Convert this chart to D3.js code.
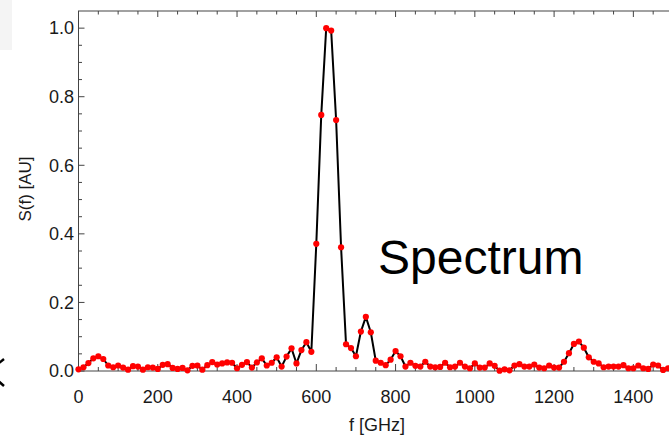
<!DOCTYPE html>
<html>
<head>
<meta charset="utf-8">
<script src="https://cdn.jsdelivr.net/npm/d3@7"></script>
<style>
    html, body { margin: 0; padding: 0; background: #fff; }
    svg { display: block; font-family: "Liberation Sans", Arial, sans-serif; }
</style>
</head>
<body>
<div id="chart"></div>
<script>
// frequency samples [GHz]
var freq = [
    0, 12.5, 25, 37.5, 50, 62.5, 75, 87.5, 100, 112.5,
    125, 137.5, 150, 162.5, 175, 187.5, 200, 212.5, 225, 237.5,
    250, 262.5, 275, 287.5, 300, 312.5, 325, 337.5, 350, 362.5,
    375, 387.5, 400, 412.5, 425, 437.5, 450, 462.5, 475, 487.5,
    500, 512.5, 525, 537.5, 550, 562.5, 575, 587.5, 600, 612.5,
    625, 637.5, 650, 662.5, 675, 687.5, 700, 712.5, 725, 737.5,
    750, 762.5, 775, 787.5, 800, 812.5, 825, 837.5, 850, 862.5,
    875, 887.5, 900, 912.5, 925, 937.5, 950, 962.5, 975, 987.5,
    1000, 1012.5, 1025, 1037.5, 1050, 1062.5, 1075, 1087.5, 1100, 1112.5,
    1125, 1137.5, 1150, 1162.5, 1175, 1187.5, 1200, 1212.5, 1225, 1237.5,
    1250, 1262.5, 1275, 1287.5, 1300, 1312.5, 1325, 1337.5, 1350, 1362.5,
    1375, 1387.5, 1400, 1412.5, 1425, 1437.5, 1450, 1462.5, 1475, 1487.5
];

// S(f)
var signal = [
    0.005, 0.011, 0.023, 0.037, 0.043, 0.035, 0.016, 0.011, 0.016, 0.010,
    0.004, 0.014, 0.013, 0.004, 0.011, 0.010, 0.006, 0.018, 0.020, 0.009,
    0.006, 0.009, 0.002, 0.015, 0.016, 0.004, 0.017, 0.026, 0.019, 0.022,
    0.025, 0.024, 0.008, 0.018, 0.026, 0.010, 0.025, 0.037, 0.016, 0.024,
    0.040, 0.013, 0.042, 0.066, 0.022, 0.061, 0.084, 0.056, 0.371, 0.747,
    1.000, 0.993, 0.732, 0.361, 0.078, 0.067, 0.043, 0.115, 0.158, 0.113,
    0.030, 0.024, 0.017, 0.033, 0.058, 0.043, 0.013, 0.024, 0.015, 0.013,
    0.027, 0.013, 0.011, 0.012, 0.024, 0.011, 0.013, 0.024, 0.013, 0.008,
    0.022, 0.010, 0.010, 0.022, 0.015, 0.001, 0.005, 0.002, 0.016, 0.020,
    0.013, 0.013, 0.019, 0.010, 0.008, 0.016, 0.010, 0.010, 0.027, 0.052,
    0.079, 0.086, 0.068, 0.040, 0.027, 0.022, 0.011, 0.013, 0.013, 0.013,
    0.017, 0.008, 0.008, 0.016, 0.008, 0.006, 0.019, 0.016, 0.003, 0.008
];

var xTicks = [0, 200, 400, 600, 800, 1000, 1200, 1400];
var yTicks = [0.0, 0.2, 0.4, 0.6, 0.8, 1.0];

var width = 669,
    height = 436,
    margin = {top: 11, right: -4, bottom: 65, left: 78.5};

var svg = d3.select("#chart")
    .append("svg")
    .attr("width", width)
    .attr("height", height);

svg.append("rect")
    .attr("width", width)
    .attr("height", height)
    .attr("fill", "#fff");

// leftovers of the slide at the left edge
svg.append("rect")
    .attr("x", 0)
    .attr("y", 0)
    .attr("width", 12)
    .attr("height", 50)
    .attr("fill", "#f4f4f4");
svg.append("path")
    .attr("d", "M4,359L-12,372L4,386")
    .attr("fill", "none")
    .attr("stroke", "#000")
    .attr("stroke-width", 2.5);

var x = d3.scaleLinear()
    .domain([0, 1500])
    .range([margin.left, width - margin.right]);

var y = d3.scaleLinear()
    .domain([0, 1.05])
    .range([height - margin.bottom, margin.top]);

var data = freq.map(function(f, i) { return {f: f, s: signal[i]}; });

var frameColor = "#444";

// frame (right side falls outside the picture)
svg.append("rect")
    .attr("x", x(0))
    .attr("y", y(1.05))
    .attr("width", x(1500) - x(0))
    .attr("height", y(0) - y(1.05))
    .attr("fill", "none")
    .attr("stroke", frameColor)
    .attr("stroke-width", 1);

// minor + major ticks, pointing inward
var xMinor = d3.range(0, 1501, 50);
var yMinor = d3.range(0, 21).map(function(k) { return k * 0.05; });

svg.append("g")
    .selectAll("line")
    .data(xMinor)
    .enter()
    .append("line")
    .attr("x1", function(d) { return x(d); })
    .attr("x2", function(d) { return x(d); })
    .attr("y1", y(0))
    .attr("y2", function(d) { return y(0) - (d % 200 === 0 ? 7 : 4); })
    .attr("stroke", frameColor);

svg.append("g")
    .selectAll("line")
    .data(xMinor)
    .enter()
    .append("line")
    .attr("x1", function(d) { return x(d); })
    .attr("x2", function(d) { return x(d); })
    .attr("y1", y(1.05))
    .attr("y2", function(d) { return y(1.05) + (d % 200 === 0 ? 6 : 3.5); })
    .attr("stroke", frameColor);

svg.append("g")
    .selectAll("line")
    .data(yMinor)
    .enter()
    .append("line")
    .attr("x1", x(0))
    .attr("x2", function(d, i) { return x(0) + (i % 4 === 0 ? 6 : 3.5); })
    .attr("y1", function(d) { return y(d); })
    .attr("y2", function(d) { return y(d); })
    .attr("stroke", frameColor);

// tick labels
svg.append("g")
    .selectAll("text")
    .data(xTicks)
    .enter()
    .append("text")
    .attr("x", function(d) { return x(d); })
    .attr("y", 403)
    .attr("text-anchor", "middle")
    .attr("font-size", 18)
    .attr("fill", "#1a1a1a")
    .text(function(d) { return d; });

svg.append("g")
    .selectAll("text")
    .data(yTicks)
    .enter()
    .append("text")
    .attr("x", 74)
    .attr("y", function(d) { return y(d); })
    .attr("dy", "0.35em")
    .attr("text-anchor", "end")
    .attr("font-size", 18)
    .attr("fill", "#1a1a1a")
    .text(function(d) { return d3.format(".1f")(d); });

// axis titles
svg.append("text")
    .attr("x", 377)
    .attr("y", 431)
    .attr("text-anchor", "middle")
    .attr("font-size", 18)
    .attr("fill", "#1a1a1a")
    .text("f [GHz]");

svg.append("text")
    .attr("transform", "translate(31,189) rotate(-90)")
    .attr("text-anchor", "middle")
    .attr("font-size", 17)
    .attr("fill", "#1a1a1a")
    .text("S(f) [AU]");

// the spectrum
var line = d3.line()
    .x(function(d) { return x(d.f); })
    .y(function(d) { return y(d.s); });

svg.append("path")
    .datum(data)
    .attr("d", line)
    .attr("fill", "none")
    .attr("stroke", "#000")
    .attr("stroke-width", 2)
    .attr("stroke-linejoin", "round");

svg.append("g")
    .selectAll("circle")
    .data(data)
    .enter()
    .append("circle")
    .attr("cx", function(d) { return x(d.f); })
    .attr("cy", function(d) { return y(d.s); })
    .attr("r", 3.1)
    .attr("fill", "#ff0000");

svg.append("text")
    .attr("x", 378)
    .attr("y", 274)
    .attr("font-size", 48)
    .attr("fill", "#000")
    .text("Spectrum");
</script>
</body>
</html>
